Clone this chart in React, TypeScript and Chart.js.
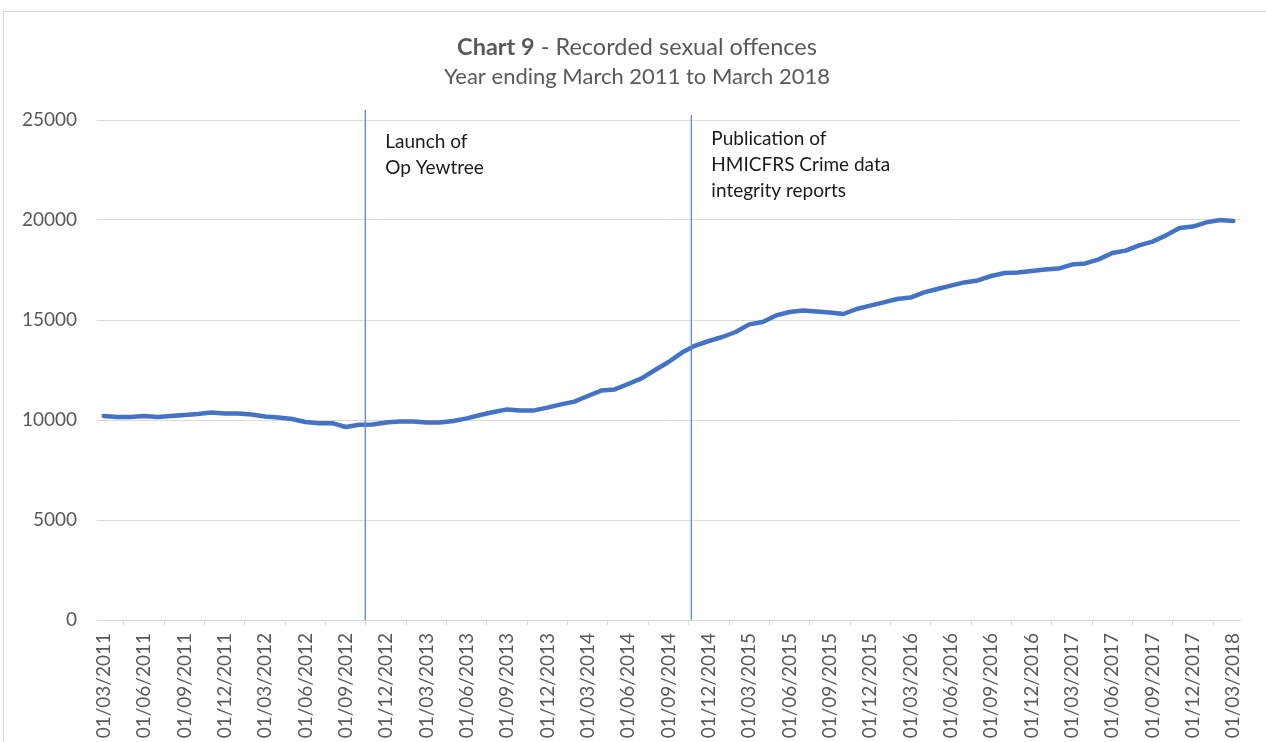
import React, { useEffect, useRef } from "react";
import { Chart, registerables } from "chart.js";

Chart.register(...registerables);

const titleBold = "Chart 9";
const titleRest = " - Recorded sexual offences";
const subtitle = "Year ending March 2011 to March 2018";

const categories: string[] = [
  "01/03/2011", "01/04/2011", "01/05/2011", "01/06/2011", "01/07/2011", "01/08/2011",
  "01/09/2011", "01/10/2011", "01/11/2011", "01/12/2011", "01/01/2012", "01/02/2012",
  "01/03/2012", "01/04/2012", "01/05/2012", "01/06/2012", "01/07/2012", "01/08/2012",
  "01/09/2012", "01/10/2012", "01/11/2012", "01/12/2012", "01/01/2013", "01/02/2013",
  "01/03/2013", "01/04/2013", "01/05/2013", "01/06/2013", "01/07/2013", "01/08/2013",
  "01/09/2013", "01/10/2013", "01/11/2013", "01/12/2013", "01/01/2014", "01/02/2014",
  "01/03/2014", "01/04/2014", "01/05/2014", "01/06/2014", "01/07/2014", "01/08/2014",
  "01/09/2014", "01/10/2014", "01/11/2014", "01/12/2014", "01/01/2015", "01/02/2015",
  "01/03/2015", "01/04/2015", "01/05/2015", "01/06/2015", "01/07/2015", "01/08/2015",
  "01/09/2015", "01/10/2015", "01/11/2015", "01/12/2015", "01/01/2016", "01/02/2016",
  "01/03/2016", "01/04/2016", "01/05/2016", "01/06/2016", "01/07/2016", "01/08/2016",
  "01/09/2016", "01/10/2016", "01/11/2016", "01/12/2016", "01/01/2017", "01/02/2017",
  "01/03/2017", "01/04/2017", "01/05/2017", "01/06/2017", "01/07/2017", "01/08/2017",
  "01/09/2017", "01/10/2017", "01/11/2017", "01/12/2017", "01/01/2018", "01/02/2018",
  "01/03/2018",
];

const sexualOffences: number[] = [
  10200, 10150, 10150, 10200, 10150, 10200, 10250, 10300, 10370, 10330,
  10320, 10280, 10180, 10120, 10050, 9900, 9840, 9840, 9650, 9760,
  9780, 9880, 9920, 9920, 9880, 9870, 9950, 10080, 10250, 10400,
  10530, 10480, 10480, 10620, 10780, 10920, 11200, 11470, 11530, 11800,
  12080, 12500, 12900, 13370, 13720, 13950, 14150, 14400, 14780, 14900,
  15230, 15400, 15480, 15430, 15380, 15300, 15550, 15720, 15880, 16050,
  16120, 16380, 16550, 16720, 16880, 16980, 17200, 17350, 17370, 17450,
  17520, 17570, 17770, 17830, 18030, 18350, 18470, 18730, 18920, 19230,
  19600, 19670, 19880, 20000, 19950,
];

const yMin = 0;
const yMax = 25000;
const yStep = 5000;
const xLabelEvery = 3;

// Event markers, positioned in category-index units
const eventPositions: number[] = [19.45, 43.7];
const eventTopValues: number[] = [25500, 25250];
const eventTexts: string[][] = [
  ["Launch of", "Op Yewtree"],
  ["Publication of", "HMICFRS Crime data", "integrity reports"],
];

const FONT = "Lato, 'Open Sans', sans-serif";

const eventsPlugin = {
  id: "eventsPlugin",
  afterDatasetsDraw(chart: any) {
    const { ctx, chartArea } = chart;
    const x = chart.scales.x;
    const y = chart.scales.y;
    const textOffsets = [22, 19];
    ctx.save();
    eventPositions.forEach((pos, k) => {
      const px = x.getPixelForValue(pos);
      ctx.strokeStyle = "#5b87d6";
      ctx.lineWidth = 1.3;
      ctx.beginPath();
      ctx.moveTo(px, y.getPixelForValue(eventTopValues[k]));
      ctx.lineTo(px, chartArea.bottom);
      ctx.stroke();
      ctx.fillStyle = "#1a1a1a";
      ctx.font = `19px ${FONT}`;
      ctx.textAlign = "left";
      ctx.textBaseline = "middle";
      eventTexts[k].forEach((line, j) => {
        ctx.fillText(line, px + 20, chartArea.top + textOffsets[k] + j * 26);
      });
    });
    ctx.restore();
  },
};

const titlePlugin = {
  id: "titlePlugin",
  afterDraw(chart: any) {
    const { ctx } = chart;
    const cx = chart.width / 2 + 4;
    ctx.save();
    ctx.fillStyle = "#595959";
    ctx.textBaseline = "middle";
    ctx.textAlign = "left";
    ctx.font = `bold 23.5px ${FONT}`;
    const wb = ctx.measureText(titleBold).width;
    ctx.font = `23.5px ${FONT}`;
    const wr = ctx.measureText(titleRest).width;
    const start = cx - (wb + wr) / 2;
    ctx.font = `bold 23.5px ${FONT}`;
    ctx.fillText(titleBold, start, 47);
    ctx.font = `23.5px ${FONT}`;
    ctx.fillText(titleRest, start + wb, 47);
    ctx.font = `22px ${FONT}`;
    ctx.textAlign = "center";
    ctx.fillText(subtitle, cx, 77);
    ctx.restore();
  },
};

export default function App() {
  const canvasRef = useRef<HTMLCanvasElement | null>(null);

  useEffect(() => {
    if (!canvasRef.current) return;
    const chart = new Chart(canvasRef.current, {
      type: "line",
      data: {
        labels: categories,
        datasets: [
          {
            label: "Recorded sexual offences",
            data: sexualOffences,
            borderColor: "#4472C4",
            backgroundColor: "#4472C4",
            borderWidth: 4.5,
            pointRadius: 0,
            tension: 0,
            borderCapStyle: "round",
            borderJoinStyle: "round",
          },
        ],
      },
      options: {
        animation: false,
        responsive: false,
        devicePixelRatio: 1,
        layout: { padding: { top: 120, right: 26, left: 0, bottom: 0 } },
        plugins: {
          legend: { display: false },
          title: { display: false },
          tooltip: { enabled: false },
        },
        scales: {
          x: {
            type: "category",
            offset: true,
            afterFit(scale: any) {
              scale.height = 180;
            },
            grid: {
              display: true,
              offset: true,
              drawOnChartArea: false,
              drawTicks: true,
              tickLength: 5,
              color: "#d9d9d9",
            },
            border: { display: true, color: "#d9d9d9", width: 1 },
            ticks: {
              autoSkip: false,
              minRotation: 90,
              maxRotation: 90,
              padding: 8,
              color: "#595959",
              font: { family: FONT, size: 19 },
              callback(_v: any, index: number) {
                return index % xLabelEvery === 0 ? categories[index] : null;
              },
            },
          },
          y: {
            min: yMin,
            max: yMax,
            afterFit(scale: any) {
              scale.width = 97;
            },
            grid: {
              color: "#d9d9d9",
              lineWidth: 1,
              drawTicks: false,
            },
            border: { display: false },
            ticks: {
              stepSize: yStep,
              padding: 20,
              color: "#595959",
              font: { family: FONT, size: 19 },
              callback(v: any) {
                return String(v);
              },
            },
          },
        },
      },
      plugins: [eventsPlugin, titlePlugin],
    });
    return () => chart.destroy();
  }, []);

  return (
    <>
      <div
        style={{
          position: "fixed",
          left: 3,
          top: 11,
          width: 1300,
          height: 800,
          border: "1px solid #d9d9d9",
          boxSizing: "border-box",
          background: "#fff",
        }}
      />
      <canvas
        ref={canvasRef}
        width={1266}
        height={800}
        style={{ position: "fixed", left: 0, top: 0, width: 1266, height: 800 }}
      />
    </>
  );
}
